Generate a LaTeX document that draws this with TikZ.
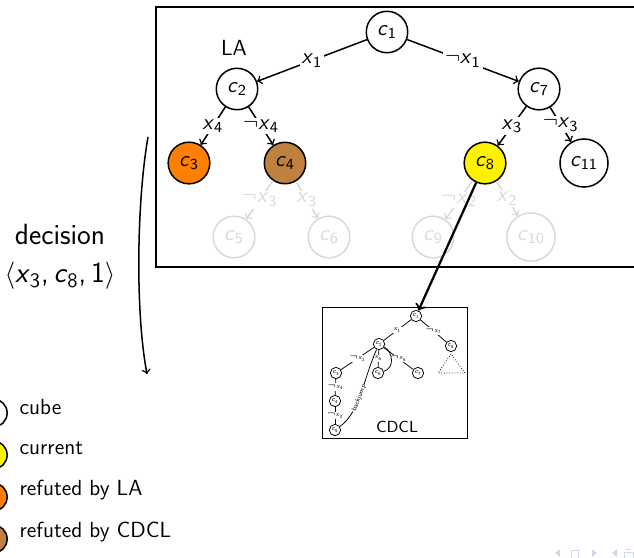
\documentclass[tikz,border=0pt]{standalone}
\usepackage{fontspec}
\usetikzlibrary{positioning}
\renewcommand{\familydefault}{\sfdefault}
\definecolor{navblue}{RGB}{205,218,238}
\newcommand{\cb}[1]{\textit{c}\textsubscript{#1}}
\newcommand{\xv}[1]{\textit{x}\textsubscript{#1}}
\newcommand{\nx}[1]{$\neg$\xv{#1}}

\begin{document}
\begin{tikzpicture}[x=0.53pt,y=-0.53pt,
  font=\fontsize{11.6}{13.5}\selectfont,
  cube/.style={circle,draw,thick,minimum size=19pt},
  cur/.style={cube,fill=yellow},
  byla/.style={cube,fill=orange},
  bycdcl/.style={cube,fill=brown},
  pruned/.style={cube,draw=black!15,text=black!15},
  lit/.style={fill=white,inner sep=1pt},
  arr/.style={->,thick},
  prunedarr/.style={->,thick,draw=black!15},
  mini/.style={circle,draw,thin,minimum size=6pt,inner sep=0.4pt,
    font=\fontsize{3.5}{3.5}\selectfont},
  minilit/.style={fill=white,inner sep=0.3pt,font=\fontsize{3.5}{3.5}\selectfont}
]
  \useasboundingbox (0,0) rectangle (634,557);

  % look-ahead tree
  \draw[thick] (156,7) rectangle (660,267);
  \node (la) at (234,48) {LA};
  \node[cube] (c1) at (387,32) {\cb{1}};
  \node[cube] (c2) at (237,89) {\cb{2}};
  \node[cube] (c7) at (539,89) {\cb{7}};
  \node[byla] (c3) at (189,163) {\cb{3}};
  \node[bycdcl] (c4) at (285,163) {\cb{4}};
  \node[cur] (c8) at (485,163) {\cb{8}};
  \node[cube] (c11) at (584,163) {\cb{11}};
  \node[pruned] (c5) at (234,237) {\cb{5}};
  \node[pruned] (c6) at (329,237) {\cb{6}};
  \node[pruned] (c9) at (433,237) {\cb{9}};
  \node[pruned] (c10) at (531,237) {\cb{10}};

  \draw[arr] (c1) -- node[lit] {\xv{1}} (c2);
  \draw[arr] (c1) -- node[lit] {\nx{1}} (c7);
  \draw[arr] (c2) -- node[lit] {\xv{4}} (c3);
  \draw[arr] (c2) -- node[lit] {\nx{4}} (c4);
  \draw[arr] (c7) -- node[lit] {\xv{3}} (c8);
  \draw[arr] (c7) -- node[lit] {\nx{3}} (c11);
  \draw[prunedarr] (c4) -- node[lit,text=black!15] {\nx{3}} (c5);
  \draw[prunedarr] (c4) -- node[lit,text=black!15] {\xv{3}} (c6);
  \draw[prunedarr] (c8) -- node[lit,text=black!15] {\nx{2}} (c9);
  \draw[prunedarr] (c8) -- node[lit,text=black!15] {\xv{2}} (c10);

  % CDCL search below the current cube
  \draw[thin] (322,307) rectangle (467,438);
  \node[font=\fontsize{8.5}{10}\selectfont] (cdcl) at (397,427) {CDCL};
  \node[mini] (s1) at (416,316) {\cb{1}};
  \node[mini] (s2) at (379,344) {\cb{2}};
  \node[mini] (s8) at (451,346) {\cb{8}};
  \node[mini] (s3) at (336,373) {\cb{3}};
  \node[mini] (s6) at (378,373) {\cb{6}};
  \node[mini] (s7) at (418,373) {\cb{7}};
  \node[mini] (s4) at (335,401) {\cb{4}};
  \node[mini] (s5) at (335,430) {\cb{5}};

  \draw[thin] (s1) -- node[minilit] {\xv{1}} (s2);
  \draw[thin] (s1) -- node[minilit] {\nx{7}} (s8);
  \draw[thin] (s2) -- node[minilit] {\nx{2}} (s3);
  \draw[thin] (s2) -- node[minilit] {\xv{6}} (s6);
  \draw[thin] (s2) -- node[minilit] {\nx{6}} (s7);
  \draw[thin] (s3) -- node[minilit] {\nx{4}} (s4);
  \draw[thin] (s4) -- node[minilit] {\nx{3}} (s5);
  \draw[thin] (s5) .. controls (360,412) and (363,380) .. node[minilit,sloped,pos=0.45] {backjump} (s2);
  \draw[thin] (s2) .. controls (393,352) and (395,368) .. (s6);
  \draw[thin,densely dotted] (451,354) -- (438,373) -- (465,373) -- cycle;

  \draw[very thick,->] (c8) -- (s1);

  % decision arrow
  \node[align=center,font=\fontsize{15.5}{20}\selectfont] (dec) at (60,257)
    {decision\\$\langle$\xv{3},\,\cb{8},\,1$\rangle$};
  \coordinate (dtop) at (148,137);
  \coordinate (dbot) at (147,374);
  \draw[arr] (dtop) .. controls (137,200) and (135,310) .. (dbot);

  % legend
  \node[cube,minimum size=15pt] (kcube) at (-7,413) {};
  \node[cur,minimum size=15pt] (kcur) at (-7,455) {};
  \node[byla,minimum size=15pt] (kla) at (-7,497) {};
  \node[bycdcl,minimum size=15pt] (kcdcl) at (-7,539) {};
  \node[right] (tcube) at (13,407) {cube};
  \node[right] (tcur) at (13,448) {current};
  \node[right] (tla) at (13,490) {refuted by LA};
  \node[right] (tcdcl) at (13,532) {refuted by CDCL};

  % navigation symbols
  \fill[navblue] (560,549) -- (555,553) -- (560,557) -- cycle;
  \draw[navblue,thin] (571,550) rectangle (578,560);
  \fill[navblue] (592,549) -- (597,553) -- (592,557) -- cycle;
  \fill[navblue] (617,549) -- (612,553) -- (617,557) -- cycle;
  \draw[navblue,thin] (624,552) rectangle (633,560);
  \draw[navblue,thin] (626,549) -- (631,549);
\end{tikzpicture}
\end{document}
